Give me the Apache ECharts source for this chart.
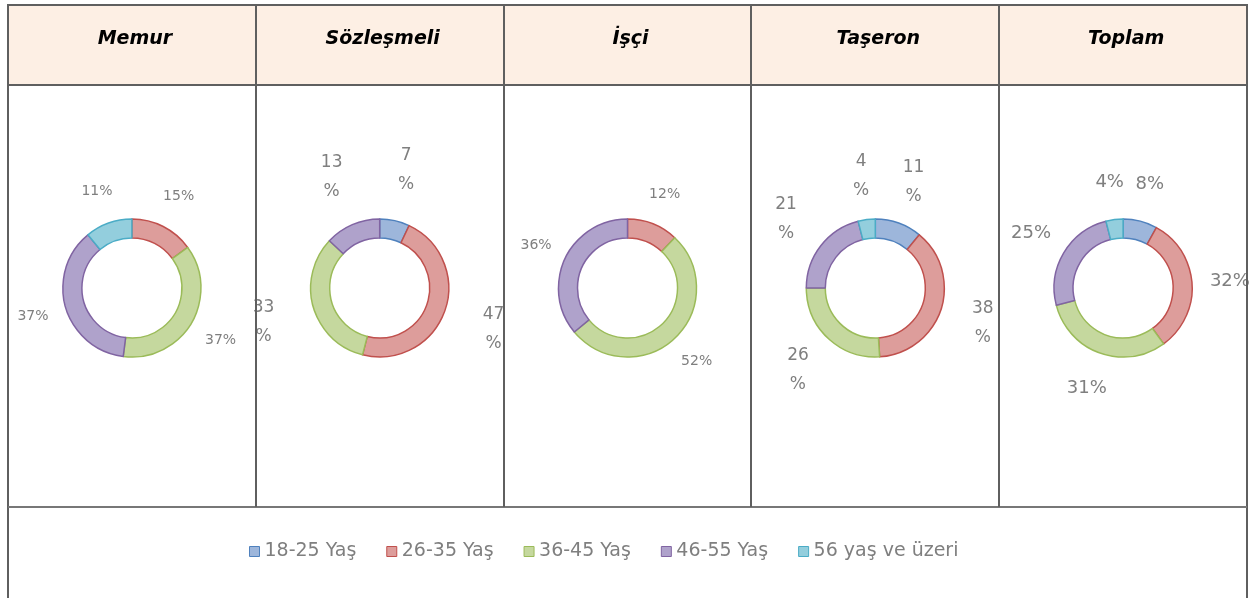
<!DOCTYPE html>
<html>
<head>
<meta charset="utf-8">
<script src="https://cdn.jsdelivr.net/npm/echarts@6/dist/echarts.min.js"></script>
<style>
html,body{margin:0;padding:0;background:#fff;}
#chart{width:1249px;height:598px;}
</style>
</head>
<body>
<div id="chart"></div>
<script>
// ---- data ----
const columns = ['Memur', 'Sözleşmeli', 'İşçi', 'Taşeron', 'Toplam'];
const ageGroups = ['18-25 Yaş', '26-35 Yaş', '36-45 Yaş', '46-55 Yaş', '56 yaş ve üzeri'];
const memur = [0, 15, 37, 37, 11];
const sozlesmeli = [7, 47, 33, 13, 0];
const isci = [0, 12, 52, 36, 0];
const taseron = [11, 38, 26, 21, 4];
const toplam = [8, 32, 31, 25, 4];
const seriesValues = [memur, sozlesmeli, isci, taseron, toplam];

// ---- style ----
const borderColors = ['#4F81BD', '#C0504D', '#9BBB59', '#8064A2', '#4BACC6'];
const fillColors = ['#9DB6DB', '#DD9D9B', '#C5D89E', '#AFA2CB', '#93CEDD'];
const labelSize = [14, 17, 14, 17, 18];
const labelWrap = [false, true, false, true, false];
const labelDist = [100, 118, 98, 110, 104];

const tableLeft = 8, tableRight = 1247, tableTop = 5, headerBottom = 85, chartBottom = 507;
const colW = (tableRight - tableLeft) / columns.length;
const lineColor = '#5f5f5f';
const pieCY = 288;

const chart = echarts.init(document.getElementById('chart'), null, {renderer: 'canvas'});

const graphics = [];
graphics.push({type: 'rect', z: 0, shape: {x: tableLeft, y: tableTop, width: tableRight - tableLeft, height: headerBottom - tableTop}, style: {fill: '#FDEFE4'}});
graphics.push({type: 'polyline', z: 5, shape: {points: [[tableLeft, 620], [tableLeft, tableTop], [tableRight, tableTop], [tableRight, 620]]}, style: {stroke: lineColor, lineWidth: 2, fill: null}});
graphics.push({type: 'line', z: 5, shape: {x1: tableLeft, y1: headerBottom, x2: tableRight, y2: headerBottom}, style: {stroke: lineColor, lineWidth: 2}});
graphics.push({type: 'line', z: 5, shape: {x1: tableLeft, y1: chartBottom, x2: tableRight, y2: chartBottom}, style: {stroke: '#777', lineWidth: 2}});
for (let i = 1; i < columns.length; i++) {
  const x = Math.round(tableLeft + colW * i);
  graphics.push({type: 'line', z: 5, shape: {x1: x, y1: tableTop, x2: x, y2: chartBottom}, style: {stroke: lineColor, lineWidth: 2}});
}
columns.forEach((c, i) => {
  graphics.push({
    type: 'text', z: 6,
    x: tableLeft + colW * i + colW / 2 + 3, y: 39,
    style: {text: c, fill: '#000', font: 'italic bold 19px "DejaVu Sans"', textAlign: 'center', textVerticalAlign: 'middle'}
  });
});

function pieData(vals, visible) {
  return ageGroups.map((g, k) => ({
    name: g,
    value: vals[k],
    itemStyle: visible
      ? {color: fillColors[k], borderColor: borderColors[k], borderWidth: 1.5}
      : {color: 'rgba(0,0,0,0)', borderWidth: 0}
  })).filter(d => d.value > 0);
}

// visible rings
const ringSeries = seriesValues.map((vals, i) => ({
  type: 'pie',
  name: columns[i],
  center: [tableLeft + colW * i + colW / 2, pieCY],
  radius: [50, 69],
  startAngle: 90,
  clockwise: true,
  silent: true,
  label: {show: false},
  labelLine: {show: false},
  data: pieData(vals, true)
}));

// transparent rings carrying the percentage labels further out
const labelSeries = seriesValues.map((vals, i) => ({
  type: 'pie',
  name: columns[i] + ' etiket',
  center: [tableLeft + colW * i + colW / 2, pieCY],
  radius: [labelDist[i] - 10, labelDist[i] + 10],
  startAngle: 90,
  clockwise: true,
  silent: true,
  z: 3,
  label: {
    show: true,
    position: 'inside',
    color: '#7F7F7F',
    fontFamily: 'DejaVu Sans',
    fontSize: labelSize[i],
    lineHeight: labelWrap[i] ? 29 : labelSize[i] + 2,
    align: 'center',
    formatter: p => labelWrap[i] ? p.value + '\n%' : p.value + '%'
  },
  labelLine: {show: false},
  data: pieData(vals, false)
}));

chart.setOption({
  animation: false,
  backgroundColor: '#fff',
  graphic: graphics,
  legend: {
    data: ageGroups,
    left: 244,
    top: 537,
    icon: 'rect',
    itemWidth: 10,
    itemHeight: 10,
    itemGap: 30,
    itemStyle: {borderWidth: 1},
    textStyle: {color: '#7F7F7F', fontFamily: 'DejaVu Sans', fontSize: 19},
    selectedMode: false
  },
  series: ringSeries.concat(labelSeries)
});
</script>
</body>
</html>
